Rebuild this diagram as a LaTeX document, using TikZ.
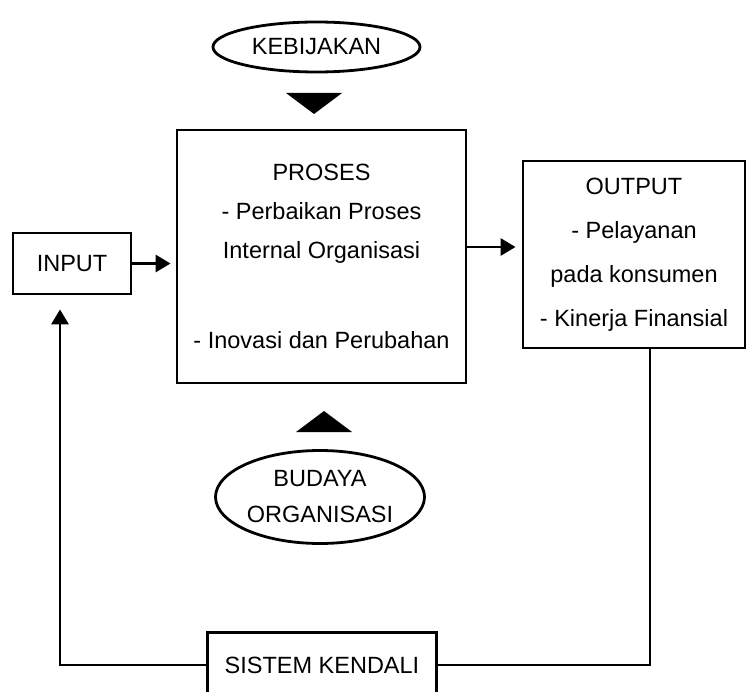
\documentclass[tikz,border=0pt]{standalone}
\usepackage{fontspec}
\setmainfont{Liberation Sans}
\usetikzlibrary{shapes.geometric,arrows.meta,calc}
\newcommand{\fsz}{\fontsize{23.5}{39}\selectfont}
\begin{document}
\begin{tikzpicture}
[x=1pt,y=-1pt,line width=2.8pt,>={Triangle[length=15pt,width=17pt]},
box/.style = {draw, rectangle, inner sep = 0pt, align=center, font=\fsz},
oval/.style = {draw, ellipse, inner sep = 0pt, align=center, font=\fsz},]
\useasboundingbox (0,0) rectangle (749,692);
\node (kebijakan) at (316.5,47)[oval,minimum width=207,minimum height=50] {KEBIJAKAN};
\node (input) at (72,263.5)[box,minimum width=118,minimum height=61] {INPUT};
\node (proses) at (321.5,256.5)[box,minimum width=289,minimum height=253] {PROSES\\- Perbaikan Proses\\Internal Organisasi\\[51pt]- Inovasi dan Perubahan};
\node (output) at (634,254.5)[box,minimum width=222,minimum height=187,font={\fontsize{23.5}{44}\selectfont}] {OUTPUT\\- Pelayanan\\pada konsumen\\- Kinerja Finansial};
\node (budaya) at (320,497)[oval,minimum width=209,minimum height=93,font={\fontsize{23.5}{36}\selectfont}] {BUDAYA\\ORGANISASI};
\node (kendali) at (322,665)[box,draw=none,minimum width=226,minimum height=62] {SISTEM KENDALI};
\draw (kendali.south west) -- (kendali.north west) -- (kendali.north east) -- (kendali.south east);
% segitiga
\fill (286,93) -- (342,93) -- (314,114) -- cycle;
\fill (296,432) -- (352,432) -- (324,411) -- cycle;
% panah
\draw[->,shorten >=5pt] (input.east) -- (input.east -| proses.west);
\coordinate (p1) at ([yshift=9.5pt]proses.east);
\draw[->,shorten >=6pt] (p1) -- (p1 -| output.west);
\coordinate (f1) at ([xshift=16pt]output.south);
\draw (f1) -- (f1 |- kendali.east) -- (kendali.east);
\coordinate (f2) at ([xshift=-12pt]input.south);
\draw[->,shorten >=14pt] (kendali.west) -- (kendali.west -| f2) -- (f2);
\end{tikzpicture}
\end{document}
